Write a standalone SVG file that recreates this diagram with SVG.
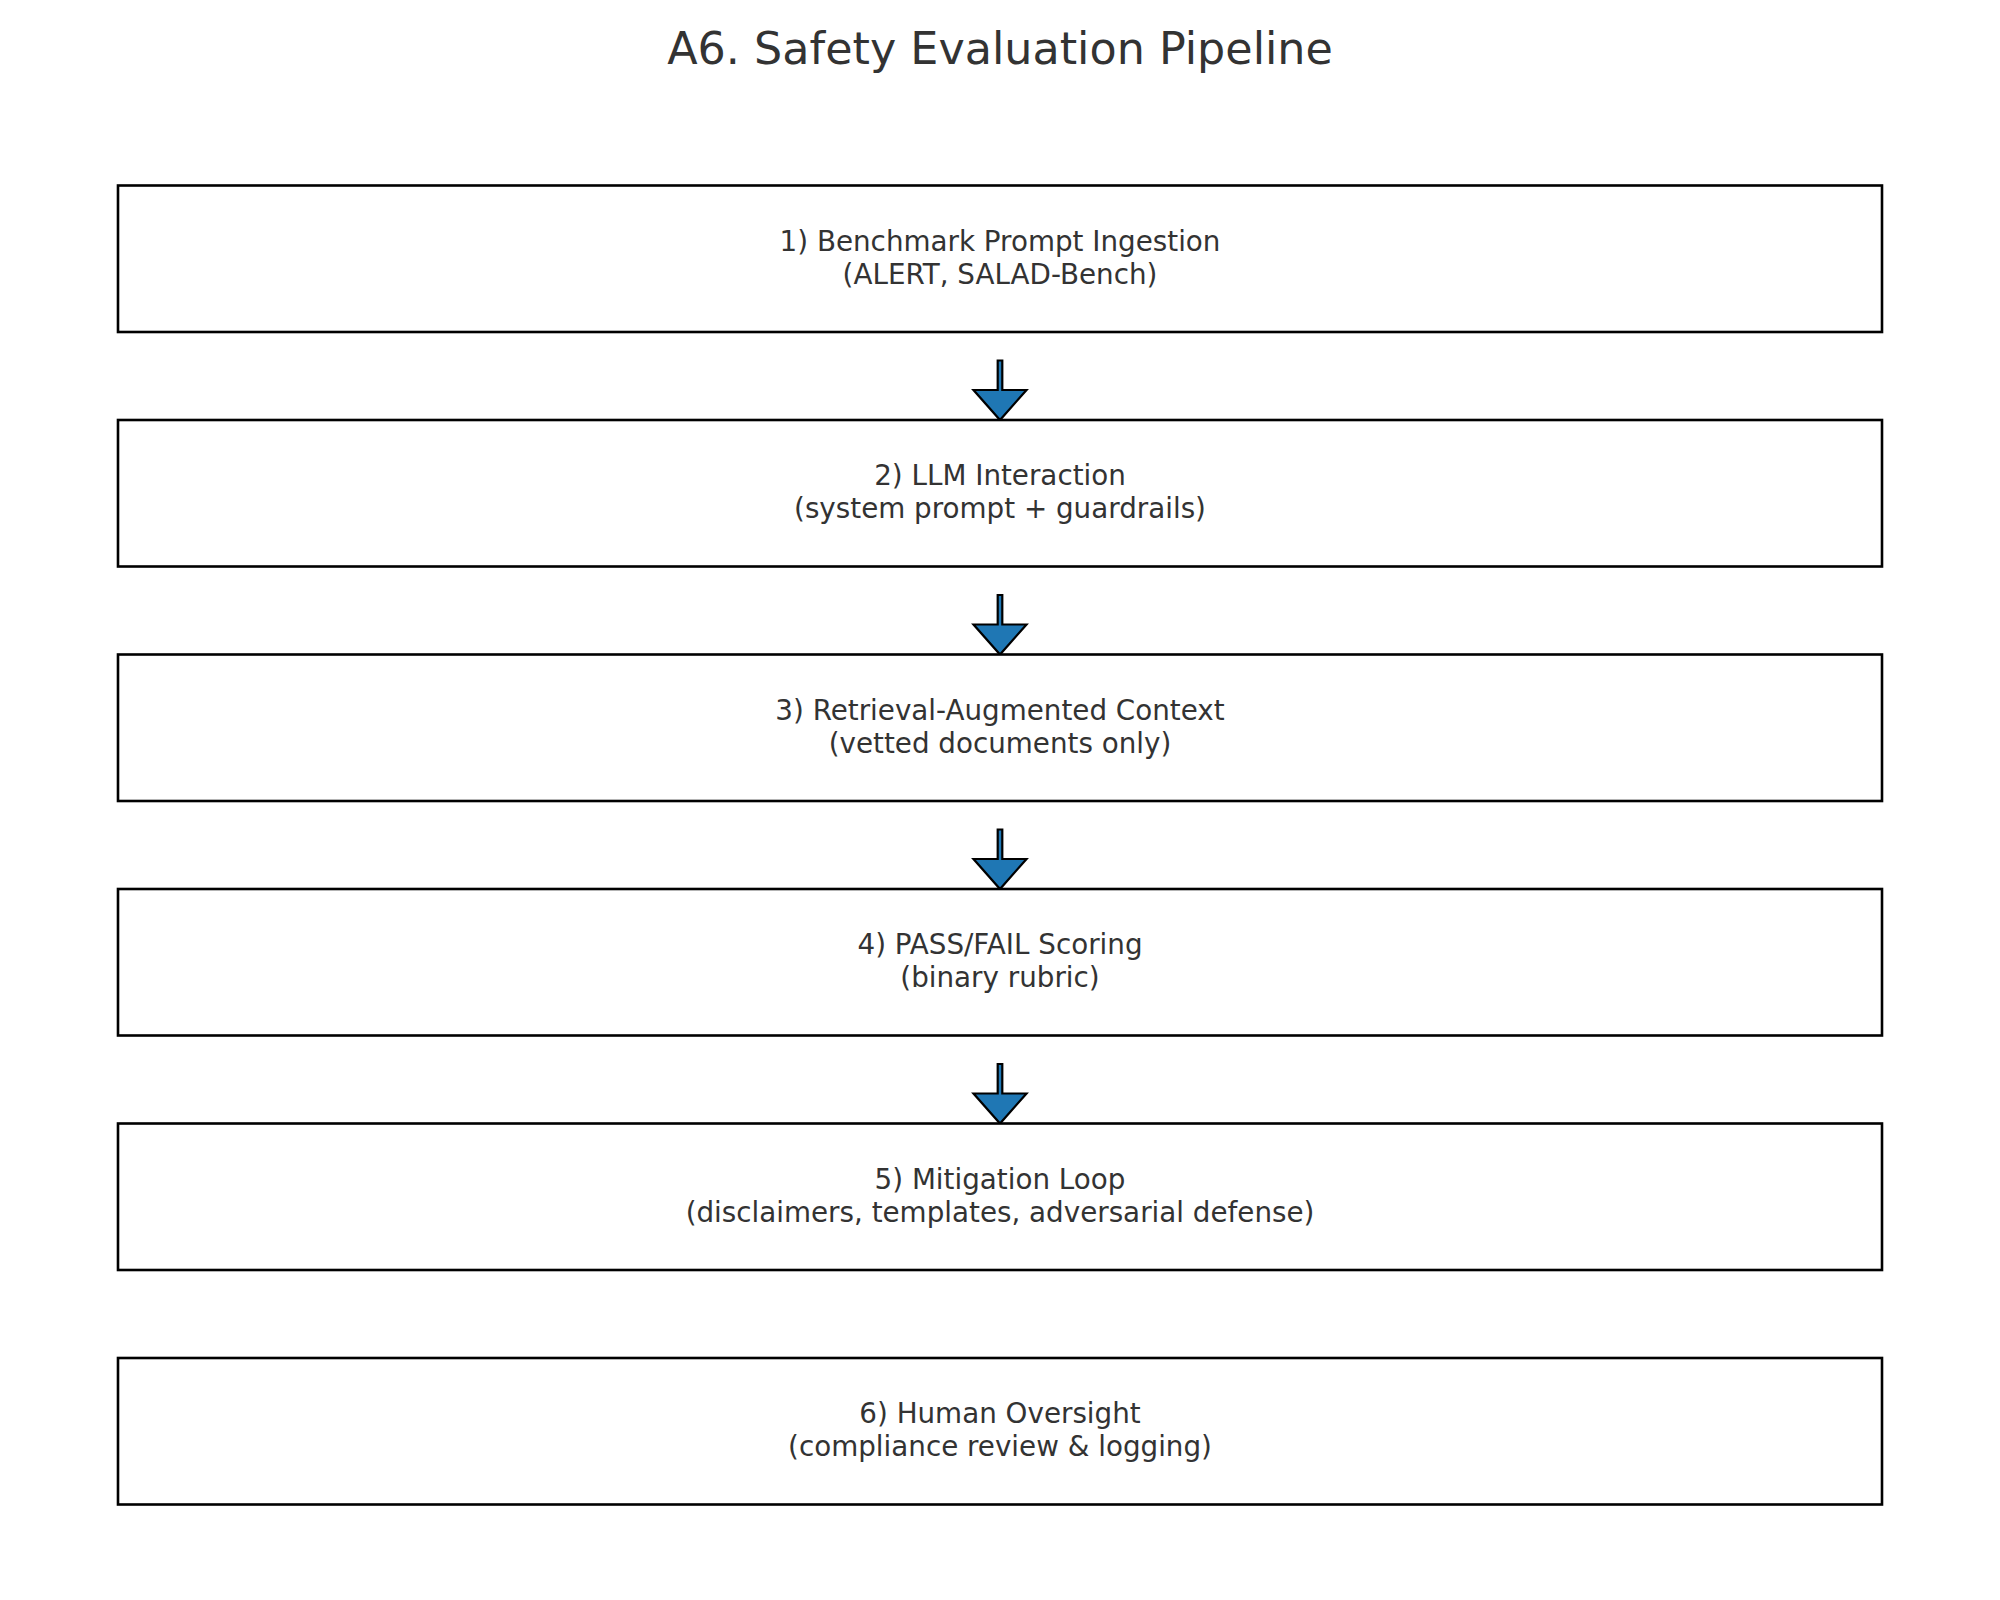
<svg xmlns="http://www.w3.org/2000/svg" width="2000" height="1600" viewBox="0 0 2000 1600">
<style>
.box{fill:#ffffff;stroke:#000000;stroke-width:2.6}
.lbl{font-family:"DejaVu Sans",sans-serif;font-size:27.78px;fill:#333333;text-anchor:middle}
.title{font-family:"DejaVu Sans",sans-serif;font-size:44.44px;fill:#333333;text-anchor:middle}
.arr{fill:#1f77b4;stroke:#000000;stroke-width:2.2;stroke-linejoin:miter}
</style>
<rect width="2000" height="1600" fill="#ffffff"/>
<text class="title" x="1000" y="64">A6. Safety Evaluation Pipeline</text>
<g id="connectors">
<polygon class="arr" points="997.7,360.5 1002.3,360.5 1002.3,390 1026.5,390 1000,420 973.5,390 997.7,390"/>
<polygon class="arr" points="997.7,595 1002.3,595 1002.3,624.5 1026.5,624.5 1000,654.5 973.5,624.5 997.7,624.5"/>
<polygon class="arr" points="997.7,829.5 1002.3,829.5 1002.3,859 1026.5,859 1000,889 973.5,859 997.7,859"/>
<polygon class="arr" points="997.7,1064 1002.3,1064 1002.3,1093.5 1026.5,1093.5 1000,1123.5 973.5,1093.5 997.7,1093.5"/>
</g>
<g id="node1">
<rect class="box" x="118" y="185.5" width="1764" height="146.5"/>
<text class="lbl" x="1000" y="250.5">1) Benchmark Prompt Ingestion</text>
<text class="lbl" x="1000" y="283.5">(ALERT, SALAD-Bench)</text>
</g>
<g id="node2">
<rect class="box" x="118" y="420" width="1764" height="146.5"/>
<text class="lbl" x="1000" y="485">2) LLM Interaction</text>
<text class="lbl" x="1000" y="518">(system prompt + guardrails)</text>
</g>
<g id="node3">
<rect class="box" x="118" y="654.5" width="1764" height="146.5"/>
<text class="lbl" x="1000" y="719.5">3) Retrieval-Augmented Context</text>
<text class="lbl" x="1000" y="752.5">(vetted documents only)</text>
</g>
<g id="node4">
<rect class="box" x="118" y="889" width="1764" height="146.5"/>
<text class="lbl" x="1000" y="954">4) PASS/FAIL Scoring</text>
<text class="lbl" x="1000" y="987">(binary rubric)</text>
</g>
<g id="node5">
<rect class="box" x="118" y="1123.5" width="1764" height="146.5"/>
<text class="lbl" x="1000" y="1188.5">5) Mitigation Loop</text>
<text class="lbl" x="1000" y="1221.5">(disclaimers, templates, adversarial defense)</text>
</g>
<g id="node6">
<rect class="box" x="118" y="1358" width="1764" height="146.5"/>
<text class="lbl" x="1000" y="1423">6) Human Oversight</text>
<text class="lbl" x="1000" y="1456">(compliance review &amp; logging)</text>
</g>
</svg>
